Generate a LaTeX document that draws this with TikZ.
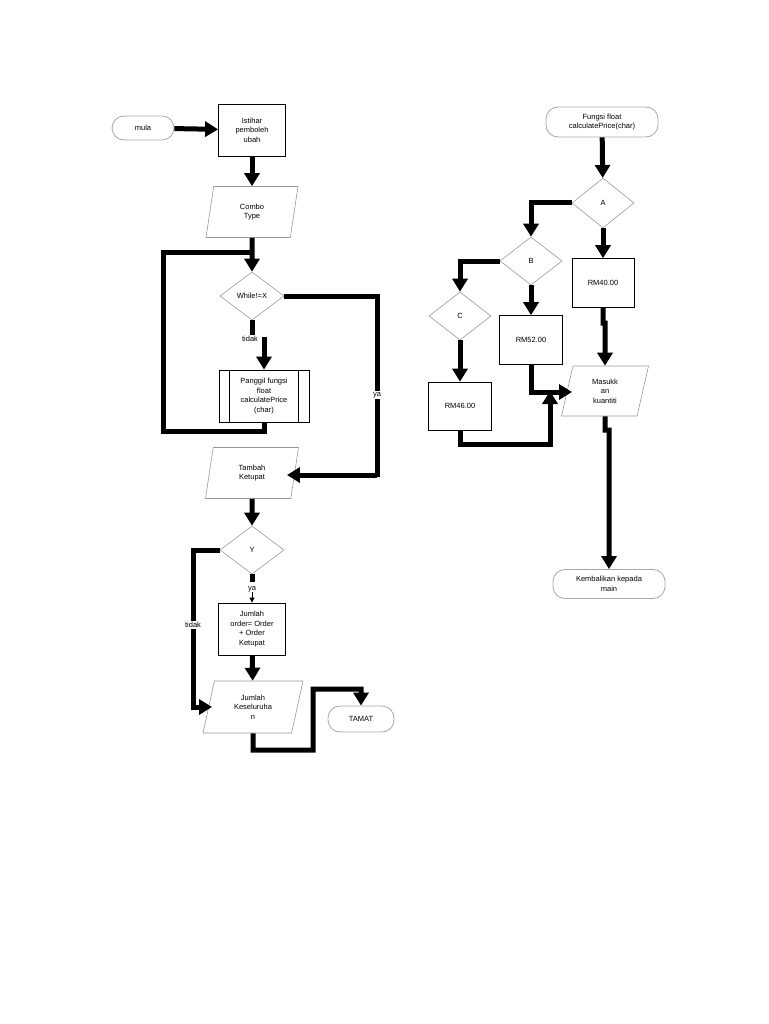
\documentclass[tikz,border=0pt]{standalone}
\usepackage{fontspec}
\setmainfont{Liberation Sans}
\usetikzlibrary{shapes.geometric,arrows.meta}
\begin{document}
\begin{tikzpicture}[x=1pt,y=-1pt,
  every node/.style={font=\fontsize{7.5}{9.5}\selectfont,align=center,inner sep=0pt},
  box/.style={draw,line width=0.8pt,minimum width=#1},
  term/.style={draw=gray!70,line width=0.8pt,rounded corners=12pt,minimum height=#1},
  io/.style={draw=gray!80,line width=0.6pt,trapezium,trapezium left angle=65,trapezium right angle=115,trapezium stretches body,minimum height=51,minimum width=#1},
  dec/.style={draw=gray!80,line width=0.6pt,diamond,minimum width=64,minimum height=48},
  fl/.style={line width=5pt,-{Triangle[width=15pt,length=13pt]}},
  ln/.style={line width=5pt},
  lab/.style={fill=white,inner sep=1pt}]
\useasboundingbox (0,0) rectangle (768,1024);
% left
\node[term=24,minimum width=62] (mula) at (143,128) {mula};
\node[box=67,minimum height=52] (ist) at (252,130) {Istihar\\pemboleh\\ubah};
\node[io=92] (combo) at (252,212) {Combo\\Type};
\node[dec] (wh) at (252,296) {While!=X};
\node[box=90,minimum height=52] (pg) at (264,396) {Panggil fungsi\\float\\calculatePrice\\(char)};
\draw[line width=0.8pt] ([xshift=11]pg.north west) -- ([xshift=11]pg.south west)
  ([xshift=-11]pg.north east) -- ([xshift=-11]pg.south east);
\node[io=93] (tb) at (252,473) {Tambah\\Ketupat};
\node[dec] (y) at (252,550) {Y};
\node[box=67,minimum height=52] (jo) at (252,629) {Jumlah\\order= Order\\+ Order\\Ketupat};
\node[io=100,minimum height=52] (jk) at (253,707) {Jumlah\\Keseluruha\\n};
\node[term=26,minimum width=66] (tamat) at (361,719) {TAMAT};
\coordinate (loop) at (252,252);
\draw[fl] (mula) -- (ist);
\draw[fl] (ist) -- (combo);
\draw[fl] (combo) -- (wh);
\draw[ln] (pg.south) -- (264,431) -- (163,431) -- (163,252) -- (loop);
\draw[ln] (wh.east) -- (377,296) -- (377,477);
\draw[fl] (377,475) -- ([xshift=-8]tb.east |- 0,475);
\node at (377,395) [lab] {ya};
\draw[ln] (wh.south) -- (252,340);
\draw[fl] (264,337) -- (pg.north);
\node at (250,339) [lab] {tidak};
\draw[fl] (tb) -- (y);
\draw[ln] (y.south) -- (252,582);
\node (ya2) at (252,589) {ya};
\draw[-{Triangle[width=5pt,length=5pt]},line width=0.8pt] (ya2.south) -- (jo.north);
\draw[ln] (y.west) -- (193,550) -- (193,707);
\draw[fl] (191,707) -- (212,707);
\node at (193,625) [lab] {tidak};
\draw[fl] (jo) -- (jk);
\draw[fl] (jk.south) -- (253,750) -- (313,750) -- (313,689) -- (361,689) -- (tamat.north);
% right
\node[term=30,minimum width=112] (fn) at (602,122) {Fungsi float\\calculatePrice(char)};
\node[dec,minimum width=62,minimum height=50] (a) at (603,203) {A};
\node[dec,minimum width=62,minimum height=48] (b) at (531,261) {B};
\node[dec,minimum width=62,minimum height=48] (c) at (460,316) {C};
\node[box=62,minimum height=49,line width=0.6pt] (r40) at (603,283) {RM40.00};
\node[box=63,minimum height=49,line width=0.6pt] (r52) at (531,340) {RM52.00};
\node[box=63,minimum height=48,line width=0.6pt] (r46) at (460,406) {RM46.00};
\node[io=87,minimum height=50] (mk) at (605,391) {Masukk\\an\\kuantiti};
\node[term=29,minimum width=112] (kb) at (609,584) {Kembalikan kepada\\main};
\draw[fl] (fn) -- (a);
\draw[fl] (a.west) -- (531,203) -- (b.north);
\draw[fl] (a) -- (r40);
\draw[fl] (b.west) -- (460,261) -- (c.north);
\draw[fl] (b) -- (r52);
\draw[fl] (c) -- (r46);
\draw[fl] (r40.south) -- (603,323) -- (605,323) -- (mk.north);
\draw[fl] (r52.south) -- (531,392) -- (572,392);
\draw[fl] (r46.south) -- (460,444) -- (550,444) -- (550,391);
\draw[fl] (mk.south) -- (605,430) -- (609,430) -- (kb.north);
\end{tikzpicture}
\end{document}
